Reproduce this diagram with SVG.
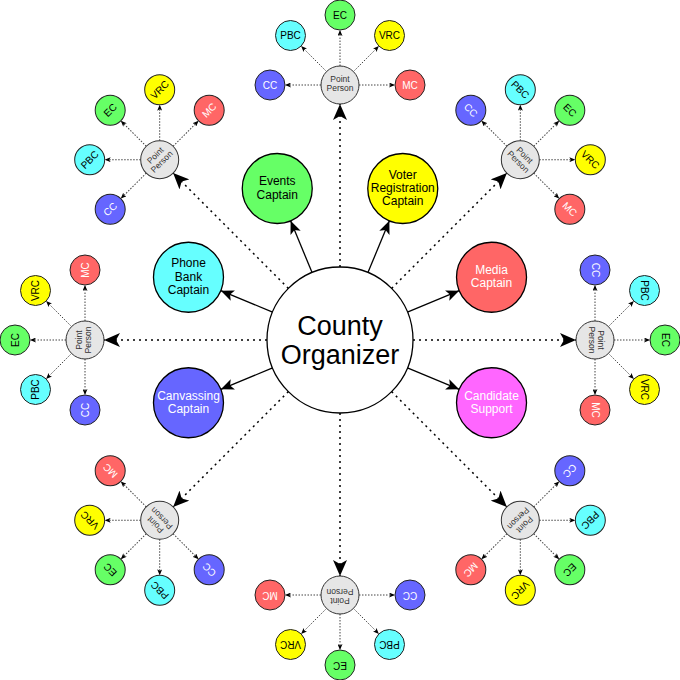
<svg xmlns="http://www.w3.org/2000/svg" width="680" height="680" viewBox="0 0 680 680">
<style>
text{font-family:"Liberation Sans",Arial,sans-serif;text-anchor:middle}
.org circle{fill:#fff;stroke:#000;stroke-width:1.3}
.org text{font-size:27px;fill:#000}
.cap circle{stroke:#000;stroke-width:1.3}
.cap text{font-size:12px;fill:#000}
.cap.w text{fill:#fff}
.pp circle{fill:#E6E6E6;stroke:#333;stroke-width:1}
.pp text{font-size:8.5px;fill:#333}
.ch circle{stroke:#222;stroke-width:1}
.ch text{font-size:10px;fill:#000}
.ch.w text{fill:#fff}
.cc circle{fill:#6666FF}.pbc circle{fill:#66FFFF}.ec circle{fill:#66FF66}.vrc circle{fill:#FFFF00}.mc circle{fill:#FF6666}.cs circle{fill:#FF66FF}
.solid{stroke:#000;stroke-width:1.3;fill:none;marker-end:url(#aCap)}
.dot{stroke:#000;stroke-width:1.5;stroke-dasharray:2 4;fill:none;marker-end:url(#aPP)}
.sub{stroke:#444;stroke-width:1;stroke-dasharray:1.5 1.5;fill:none;marker-end:url(#aSub)}
</style>
<defs>
<marker id="aCap" markerUnits="userSpaceOnUse" viewBox="0 0 13 11" refX="13" refY="5.5" markerWidth="13" markerHeight="11" orient="auto"><path d="M0,0 L13,5.5 L0,11 L3,5.5 z" fill="#000"/></marker>
<marker id="aPP" markerUnits="userSpaceOnUse" viewBox="0 0 16 14" refX="16" refY="7" markerWidth="16" markerHeight="14" orient="auto"><path d="M0,0 L16,7 L0,14 L4,7 z" fill="#000"/></marker>
<marker id="aSub" markerUnits="userSpaceOnUse" viewBox="0 0 6 5" refX="6" refY="2.5" markerWidth="6" markerHeight="5" orient="auto"><path d="M0,0 L6,2.5 L0,5 L1.5,2.5 z" fill="#000"/></marker>
</defs>
<g id="connectors">
<line class="solid" x1="312.06" y1="272.56" x2="290.63" y2="220.82"/>
<line class="solid" x1="367.94" y1="272.56" x2="389.37" y2="220.82"/>
<line class="solid" x1="407.44" y1="312.06" x2="459.18" y2="290.63"/>
<line class="solid" x1="407.44" y1="367.94" x2="459.18" y2="389.37"/>
<line class="solid" x1="272.56" y1="367.94" x2="220.82" y2="389.37"/>
<line class="solid" x1="272.56" y1="312.06" x2="220.82" y2="290.63"/>
<g transform="rotate(0 340 340)"><line class="dot" x1="340" y1="267" x2="340" y2="104"/><line class="sub" x1="321" y1="85" x2="285" y2="85"/><line class="sub" x1="326.57" y1="71.57" x2="301.11" y2="46.11"/><line class="sub" x1="340" y1="66" x2="340" y2="30"/><line class="sub" x1="353.43" y1="71.57" x2="378.89" y2="46.11"/><line class="sub" x1="359" y1="85" x2="395" y2="85"/></g>
<g transform="rotate(45 340 340)"><line class="dot" x1="340" y1="267" x2="340" y2="104"/><line class="sub" x1="321" y1="85" x2="285" y2="85"/><line class="sub" x1="326.57" y1="71.57" x2="301.11" y2="46.11"/><line class="sub" x1="340" y1="66" x2="340" y2="30"/><line class="sub" x1="353.43" y1="71.57" x2="378.89" y2="46.11"/><line class="sub" x1="359" y1="85" x2="395" y2="85"/></g>
<g transform="rotate(90 340 340)"><line class="dot" x1="340" y1="267" x2="340" y2="104"/><line class="sub" x1="321" y1="85" x2="285" y2="85"/><line class="sub" x1="326.57" y1="71.57" x2="301.11" y2="46.11"/><line class="sub" x1="340" y1="66" x2="340" y2="30"/><line class="sub" x1="353.43" y1="71.57" x2="378.89" y2="46.11"/><line class="sub" x1="359" y1="85" x2="395" y2="85"/></g>
<g transform="rotate(135 340 340)"><line class="dot" x1="340" y1="267" x2="340" y2="104"/><line class="sub" x1="321" y1="85" x2="285" y2="85"/><line class="sub" x1="326.57" y1="71.57" x2="301.11" y2="46.11"/><line class="sub" x1="340" y1="66" x2="340" y2="30"/><line class="sub" x1="353.43" y1="71.57" x2="378.89" y2="46.11"/><line class="sub" x1="359" y1="85" x2="395" y2="85"/></g>
<g transform="rotate(180 340 340)"><line class="dot" x1="340" y1="267" x2="340" y2="104"/><line class="sub" x1="321" y1="85" x2="285" y2="85"/><line class="sub" x1="326.57" y1="71.57" x2="301.11" y2="46.11"/><line class="sub" x1="340" y1="66" x2="340" y2="30"/><line class="sub" x1="353.43" y1="71.57" x2="378.89" y2="46.11"/><line class="sub" x1="359" y1="85" x2="395" y2="85"/></g>
<g transform="rotate(225 340 340)"><line class="dot" x1="340" y1="267" x2="340" y2="104"/><line class="sub" x1="321" y1="85" x2="285" y2="85"/><line class="sub" x1="326.57" y1="71.57" x2="301.11" y2="46.11"/><line class="sub" x1="340" y1="66" x2="340" y2="30"/><line class="sub" x1="353.43" y1="71.57" x2="378.89" y2="46.11"/><line class="sub" x1="359" y1="85" x2="395" y2="85"/></g>
<g transform="rotate(270 340 340)"><line class="dot" x1="340" y1="267" x2="340" y2="104"/><line class="sub" x1="321" y1="85" x2="285" y2="85"/><line class="sub" x1="326.57" y1="71.57" x2="301.11" y2="46.11"/><line class="sub" x1="340" y1="66" x2="340" y2="30"/><line class="sub" x1="353.43" y1="71.57" x2="378.89" y2="46.11"/><line class="sub" x1="359" y1="85" x2="395" y2="85"/></g>
<g transform="rotate(315 340 340)"><line class="dot" x1="340" y1="267" x2="340" y2="104"/><line class="sub" x1="321" y1="85" x2="285" y2="85"/><line class="sub" x1="326.57" y1="71.57" x2="301.11" y2="46.11"/><line class="sub" x1="340" y1="66" x2="340" y2="30"/><line class="sub" x1="353.43" y1="71.57" x2="378.89" y2="46.11"/><line class="sub" x1="359" y1="85" x2="395" y2="85"/></g>
</g>
<g id="county-organizer" class="org"><circle cx="340" cy="340" r="73"/><text x="340" y="335">County</text><text x="340" y="364">Organizer</text></g>
<g id="events-captain" class="cap ec"><circle cx="277.24" cy="188.48" r="35"/><text x="277.24" y="185.2">Events</text><text x="277.24" y="198.5">Captain</text></g>
<g id="voter-registration-captain" class="cap vrc"><circle cx="402.76" cy="188.48" r="35"/><text x="402.76" y="178.5">Voter</text><text x="402.76" y="191.8">Registration</text><text x="402.76" y="205.1">Captain</text></g>
<g id="media-captain" class="cap mc w"><circle cx="491.52" cy="277.24" r="35"/><text x="491.52" y="273.9">Media</text><text x="491.52" y="287.2">Captain</text></g>
<g id="candidate-support" class="cap cs w"><circle cx="491.52" cy="402.76" r="35"/><text x="491.52" y="399.5">Candidate</text><text x="491.52" y="412.8">Support</text></g>
<g id="canvassing-captain" class="cap cc w"><circle cx="188.48" cy="402.76" r="35"/><text x="188.48" y="399.5">Canvassing</text><text x="188.48" y="412.8">Captain</text></g>
<g id="phone-bank-captain" class="cap pbc"><circle cx="188.48" cy="277.24" r="35"/><text x="188.48" y="267.2">Phone</text><text x="188.48" y="280.5">Bank</text><text x="188.48" y="293.8">Captain</text></g>
<g id="pp-0" class="pp" transform="rotate(0 340 340)"><circle cx="340" cy="85" r="19"/><text x="340" y="81.8">Point</text><text x="340" y="90.8">Person</text></g>
<g id="cc-0" class="ch cc w" transform="rotate(0 340 340)"><circle cx="270" cy="85" r="15"/><text x="270" y="88.5">CC</text></g>
<g id="pbc-0" class="ch pbc" transform="rotate(0 340 340)"><circle cx="290.5" cy="35.5" r="15"/><text x="290.5" y="39">PBC</text></g>
<g id="ec-0" class="ch ec" transform="rotate(0 340 340)"><circle cx="340" cy="15" r="15"/><text x="340" y="18.5">EC</text></g>
<g id="vrc-0" class="ch vrc" transform="rotate(0 340 340)"><circle cx="389.5" cy="35.5" r="15"/><text x="389.5" y="39">VRC</text></g>
<g id="mc-0" class="ch mc w" transform="rotate(0 340 340)"><circle cx="410" cy="85" r="15"/><text x="410" y="88.5">MC</text></g>
<g id="pp-1" class="pp" transform="rotate(45 340 340)"><circle cx="340" cy="85" r="19"/><text x="340" y="81.8">Point</text><text x="340" y="90.8">Person</text></g>
<g id="cc-1" class="ch cc w" transform="rotate(45 340 340)"><circle cx="270" cy="85" r="15"/><text x="270" y="88.5">CC</text></g>
<g id="pbc-1" class="ch pbc" transform="rotate(45 340 340)"><circle cx="290.5" cy="35.5" r="15"/><text x="290.5" y="39">PBC</text></g>
<g id="ec-1" class="ch ec" transform="rotate(45 340 340)"><circle cx="340" cy="15" r="15"/><text x="340" y="18.5">EC</text></g>
<g id="vrc-1" class="ch vrc" transform="rotate(45 340 340)"><circle cx="389.5" cy="35.5" r="15"/><text x="389.5" y="39">VRC</text></g>
<g id="mc-1" class="ch mc w" transform="rotate(45 340 340)"><circle cx="410" cy="85" r="15"/><text x="410" y="88.5">MC</text></g>
<g id="pp-2" class="pp" transform="rotate(90 340 340)"><circle cx="340" cy="85" r="19"/><text x="340" y="81.8">Point</text><text x="340" y="90.8">Person</text></g>
<g id="cc-2" class="ch cc w" transform="rotate(90 340 340)"><circle cx="270" cy="85" r="15"/><text x="270" y="88.5">CC</text></g>
<g id="pbc-2" class="ch pbc" transform="rotate(90 340 340)"><circle cx="290.5" cy="35.5" r="15"/><text x="290.5" y="39">PBC</text></g>
<g id="ec-2" class="ch ec" transform="rotate(90 340 340)"><circle cx="340" cy="15" r="15"/><text x="340" y="18.5">EC</text></g>
<g id="vrc-2" class="ch vrc" transform="rotate(90 340 340)"><circle cx="389.5" cy="35.5" r="15"/><text x="389.5" y="39">VRC</text></g>
<g id="mc-2" class="ch mc w" transform="rotate(90 340 340)"><circle cx="410" cy="85" r="15"/><text x="410" y="88.5">MC</text></g>
<g id="pp-3" class="pp" transform="rotate(135 340 340)"><circle cx="340" cy="85" r="19"/><text x="340" y="81.8">Point</text><text x="340" y="90.8">Person</text></g>
<g id="cc-3" class="ch cc w" transform="rotate(135 340 340)"><circle cx="270" cy="85" r="15"/><text x="270" y="88.5">CC</text></g>
<g id="pbc-3" class="ch pbc" transform="rotate(135 340 340)"><circle cx="290.5" cy="35.5" r="15"/><text x="290.5" y="39">PBC</text></g>
<g id="ec-3" class="ch ec" transform="rotate(135 340 340)"><circle cx="340" cy="15" r="15"/><text x="340" y="18.5">EC</text></g>
<g id="vrc-3" class="ch vrc" transform="rotate(135 340 340)"><circle cx="389.5" cy="35.5" r="15"/><text x="389.5" y="39">VRC</text></g>
<g id="mc-3" class="ch mc w" transform="rotate(135 340 340)"><circle cx="410" cy="85" r="15"/><text x="410" y="88.5">MC</text></g>
<g id="pp-4" class="pp" transform="rotate(180 340 340)"><circle cx="340" cy="85" r="19"/><text x="340" y="81.8">Point</text><text x="340" y="90.8">Person</text></g>
<g id="cc-4" class="ch cc w" transform="rotate(180 340 340)"><circle cx="270" cy="85" r="15"/><text x="270" y="88.5">CC</text></g>
<g id="pbc-4" class="ch pbc" transform="rotate(180 340 340)"><circle cx="290.5" cy="35.5" r="15"/><text x="290.5" y="39">PBC</text></g>
<g id="ec-4" class="ch ec" transform="rotate(180 340 340)"><circle cx="340" cy="15" r="15"/><text x="340" y="18.5">EC</text></g>
<g id="vrc-4" class="ch vrc" transform="rotate(180 340 340)"><circle cx="389.5" cy="35.5" r="15"/><text x="389.5" y="39">VRC</text></g>
<g id="mc-4" class="ch mc w" transform="rotate(180 340 340)"><circle cx="410" cy="85" r="15"/><text x="410" y="88.5">MC</text></g>
<g id="pp-5" class="pp" transform="rotate(225 340 340)"><circle cx="340" cy="85" r="19"/><text x="340" y="81.8">Point</text><text x="340" y="90.8">Person</text></g>
<g id="cc-5" class="ch cc w" transform="rotate(225 340 340)"><circle cx="270" cy="85" r="15"/><text x="270" y="88.5">CC</text></g>
<g id="pbc-5" class="ch pbc" transform="rotate(225 340 340)"><circle cx="290.5" cy="35.5" r="15"/><text x="290.5" y="39">PBC</text></g>
<g id="ec-5" class="ch ec" transform="rotate(225 340 340)"><circle cx="340" cy="15" r="15"/><text x="340" y="18.5">EC</text></g>
<g id="vrc-5" class="ch vrc" transform="rotate(225 340 340)"><circle cx="389.5" cy="35.5" r="15"/><text x="389.5" y="39">VRC</text></g>
<g id="mc-5" class="ch mc w" transform="rotate(225 340 340)"><circle cx="410" cy="85" r="15"/><text x="410" y="88.5">MC</text></g>
<g id="pp-6" class="pp" transform="rotate(270 340 340)"><circle cx="340" cy="85" r="19"/><text x="340" y="81.8">Point</text><text x="340" y="90.8">Person</text></g>
<g id="cc-6" class="ch cc w" transform="rotate(270 340 340)"><circle cx="270" cy="85" r="15"/><text x="270" y="88.5">CC</text></g>
<g id="pbc-6" class="ch pbc" transform="rotate(270 340 340)"><circle cx="290.5" cy="35.5" r="15"/><text x="290.5" y="39">PBC</text></g>
<g id="ec-6" class="ch ec" transform="rotate(270 340 340)"><circle cx="340" cy="15" r="15"/><text x="340" y="18.5">EC</text></g>
<g id="vrc-6" class="ch vrc" transform="rotate(270 340 340)"><circle cx="389.5" cy="35.5" r="15"/><text x="389.5" y="39">VRC</text></g>
<g id="mc-6" class="ch mc w" transform="rotate(270 340 340)"><circle cx="410" cy="85" r="15"/><text x="410" y="88.5">MC</text></g>
<g id="pp-7" class="pp" transform="rotate(315 340 340)"><circle cx="340" cy="85" r="19"/><text x="340" y="81.8">Point</text><text x="340" y="90.8">Person</text></g>
<g id="cc-7" class="ch cc w" transform="rotate(315 340 340)"><circle cx="270" cy="85" r="15"/><text x="270" y="88.5">CC</text></g>
<g id="pbc-7" class="ch pbc" transform="rotate(315 340 340)"><circle cx="290.5" cy="35.5" r="15"/><text x="290.5" y="39">PBC</text></g>
<g id="ec-7" class="ch ec" transform="rotate(315 340 340)"><circle cx="340" cy="15" r="15"/><text x="340" y="18.5">EC</text></g>
<g id="vrc-7" class="ch vrc" transform="rotate(315 340 340)"><circle cx="389.5" cy="35.5" r="15"/><text x="389.5" y="39">VRC</text></g>
<g id="mc-7" class="ch mc w" transform="rotate(315 340 340)"><circle cx="410" cy="85" r="15"/><text x="410" y="88.5">MC</text></g>
</svg>
